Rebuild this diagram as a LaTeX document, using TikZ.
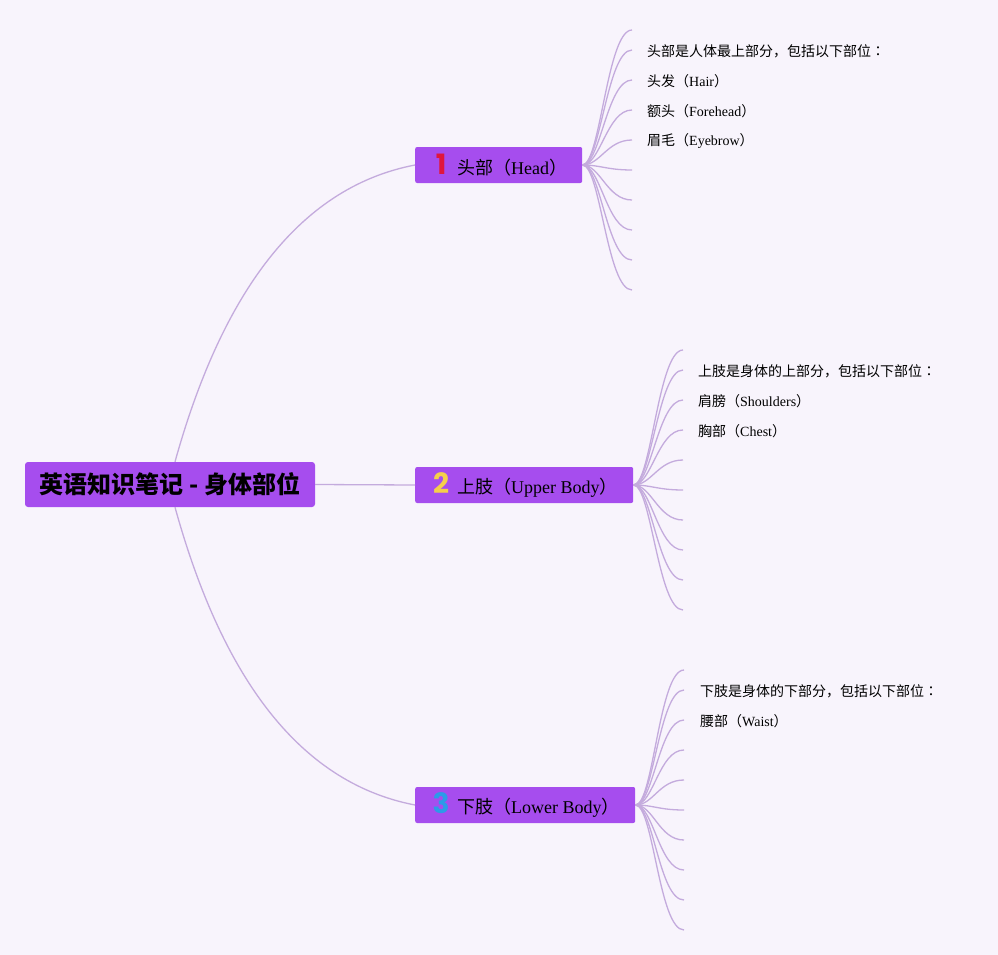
\documentclass[tikz,border=0pt]{standalone}
\usepackage{fontspec}
\setmainfont{Liberation Serif}
\newfontfamily\cjk{Noto Sans CJK SC}
\newfontfamily\cjkjp{Noto Sans CJK JP}
\newfontfamily\numfont{Poppins}
\usetikzlibrary{calc}
\definecolor{bgc}{HTML}{F8F4FC}
\definecolor{boxc}{HTML}{A64DEE}
\definecolor{linec}{HTML}{C4ABDD}
\definecolor{numa}{HTML}{E0163C}
\definecolor{numb}{HTML}{F5CF4A}
\definecolor{numc}{HTML}{2C9BE8}
\newcommand{\zhtxt}[1]{{\cjk #1}}
\newcommand{\zhcolon}{{\cjkjp ：}}
\newcommand{\numicon}[2]{\makebox[16pt]{\numfont\bfseries\fontsize{28}{28}\selectfont\color{#1}#2}\hspace{8pt}}
\begin{document}
\begin{tikzpicture}[x=1pt,y=-1pt,
  rootbox/.style={fill=boxc,rounded corners=3pt,minimum width=290pt,minimum height=45pt,inner sep=0pt,
    font=\fontsize{24}{28}\selectfont},
  topicbox/.style={fill=boxc,rounded corners=2pt,minimum height=36pt,inner ysep=0pt,inner xsep=0pt,
    anchor=west,font=\fontsize{18}{22}\selectfont},
  branch/.style={draw=linec,line width=1.3pt},
  leaf/.style={draw=linec,line width=1.3pt},
  leaftext/.style={anchor=west,inner sep=0pt,font=\fontsize{14}{17}\selectfont}
]
\fill[bgc] (0,0) rectangle (998,955);
\useasboundingbox (0,0) rectangle (998,955);

\node[rootbox] (root) at (170,484.5) {\zhtxt{\bfseries 英语知识笔记 - 身体部位}};

\node[topicbox] (head) at (415,165) {\hspace{18pt}\makebox[149pt][l]{\numicon{numa}{1}\zhtxt{头部（}Head\zhtxt{）}}};
\node[topicbox] (upper) at (415,485) {\hspace{18pt}\makebox[200pt][l]{\numicon{numb}{2}\zhtxt{上肢（}Upper Body\zhtxt{）}}};
\node[topicbox] (lower) at (415,805) {\hspace{18pt}\makebox[202pt][l]{\numicon{numc}{3}\zhtxt{下肢（}Lower Body\zhtxt{）}}};

\draw[branch] ([xshift=5pt]root.north) .. controls (220,300) and (295,188) .. (head.west);
\draw[branch] (root.east) -- (upper.west);
\draw[branch] ([xshift=5pt]root.south) .. controls (220,670) and (295,782) .. (lower.west);

% leaf ends
\foreach \i/\y in {1/30,2/50,3/80,4/110,5/140,6/170,7/200,8/230,9/260,10/290}
  \coordinate (h\i) at (632,\y);
\foreach \i/\y in {1/350,2/370,3/400,4/430,5/460,6/490,7/520,8/550,9/580,10/610}
  \coordinate (u\i) at (683,\y);
\foreach \i/\y in {1/670,2/690,3/720,4/750,5/780,6/810,7/840,8/870,9/900,10/930}
  \coordinate (l\i) at (684,\y);

\foreach \i in {1,...,10} {
  \draw[leaf] (head.east) .. controls ($(head.east)+(18,0)$) and ($(h\i)+(-25,0)$) .. (h\i);
  \draw[leaf] (upper.east) .. controls ($(upper.east)+(18,0)$) and ($(u\i)+(-25,0)$) .. (u\i);
  \draw[leaf] (lower.east) .. controls ($(lower.east)+(18,0)$) and ($(l\i)+(-25,0)$) .. (l\i);
}

\node[leaftext] (ht1) at ($(h2)+(15,1)$) {\zhtxt{头部是人体最上部分，包括以下部位}\zhcolon};
\node[leaftext] (ht2) at ($(h3)+(15,1)$) {\zhtxt{头发（}Hair\zhtxt{）}};
\node[leaftext] (ht3) at ($(h4)+(15,1)$) {\zhtxt{额头（}Forehead\zhtxt{）}};
\node[leaftext] (ht4) at ($(h5)+(15,1)$) {\zhtxt{眉毛（}Eyebrow\zhtxt{）}};

\node[leaftext] (ut1) at ($(u2)+(15,1)$) {\zhtxt{上肢是身体的上部分，包括以下部位}\zhcolon};
\node[leaftext] (ut2) at ($(u3)+(15,1)$) {\zhtxt{肩膀（}Shoulders\zhtxt{）}};
\node[leaftext] (ut3) at ($(u4)+(15,1)$) {\zhtxt{胸部（}Chest\zhtxt{）}};

\node[leaftext] (lt1) at ($(l2)+(16,1)$) {\zhtxt{下肢是身体的下部分，包括以下部位}\zhcolon};
\node[leaftext] (lt2) at ($(l3)+(16,1)$) {\zhtxt{腰部（}Waist\zhtxt{）}};
\end{tikzpicture}
\end{document}
